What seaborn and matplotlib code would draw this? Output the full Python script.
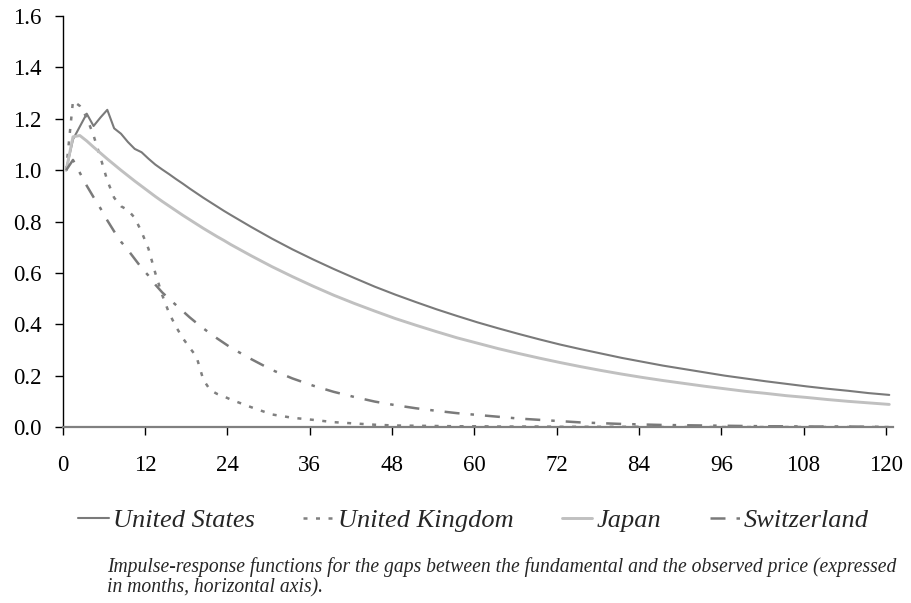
import numpy as np
import pandas as pd
import matplotlib
matplotlib.use("Agg")
import matplotlib.pyplot as plt
import seaborn as sns

# ---- data ----
months = list(range(0, 25)) + list(range(27, 121, 3))

united_states = [1.000, 1.120, 1.170, 1.220, 1.172, 1.205, 1.235, 1.163, 1.142, 1.110,
                 1.083, 1.070, 1.045, 1.022, 1.003, 0.985, 0.966, 0.948, 0.929, 0.911,
                 0.893, 0.876, 0.859, 0.842, 0.826,
                 0.779, 0.734, 0.692, 0.653, 0.616, 0.581, 0.547, 0.516, 0.487, 0.459,
                 0.433, 0.408, 0.385, 0.363, 0.342, 0.322, 0.304, 0.287, 0.270, 0.255,
                 0.240, 0.227, 0.214, 0.201, 0.190, 0.179, 0.169, 0.159, 0.150, 0.142,
                 0.133, 0.126]

united_kingdom = [1.000, 1.270, 1.250, 1.205, 1.135, 1.050, 0.960, 0.893, 0.860, 0.845,
                  0.815, 0.760, 0.695, 0.600, 0.515, 0.445, 0.392, 0.347, 0.310, 0.275,
                  0.185, 0.145, 0.130, 0.120, 0.108,
                  0.078, 0.050, 0.037, 0.029, 0.020, 0.015, 0.010, 0.007, 0.006, 0.005,
                  0.004, 0.004, 0.003, 0.003, 0.003, 0.002, 0.002, 0.002, 0.002, 0.002,
                  0.001, 0.001, 0.001, 0.001, 0.001, 0.001, 0.001, 0.001, 0.001, 0.001,
                  0.001, 0.001]

japan = [1.000, 1.130, 1.135, 1.114, 1.090, 1.067, 1.044, 1.022, 1.000, 0.979,
         0.958, 0.938, 0.918, 0.898, 0.879, 0.861, 0.843, 0.825, 0.808, 0.791,
         0.774, 0.758, 0.742, 0.727, 0.711,
         0.667, 0.625, 0.586, 0.549, 0.514, 0.482, 0.452, 0.423, 0.397, 0.372,
         0.348, 0.327, 0.306, 0.287, 0.269, 0.252, 0.236, 0.221, 0.207, 0.194,
         0.182, 0.171, 0.160, 0.150, 0.140, 0.132, 0.123, 0.116, 0.108, 0.101,
         0.095, 0.089]

switzerland = [1.000, 1.040, 0.990, 0.940, 0.895, 0.852, 0.805, 0.762, 0.722, 0.690,
               0.655, 0.620, 0.590, 0.555, 0.525, 0.500, 0.476, 0.452, 0.428, 0.406,
               0.385, 0.365, 0.346, 0.328, 0.310,
               0.265, 0.223, 0.190, 0.162, 0.138, 0.118, 0.100, 0.086, 0.074, 0.064,
               0.055, 0.048, 0.041, 0.034, 0.029, 0.024, 0.019, 0.016, 0.013, 0.011,
               0.009, 0.008, 0.007, 0.006, 0.005, 0.004, 0.004, 0.003, 0.003, 0.003,
               0.002, 0.002]

series_names = ["United States", "United Kingdom", "Japan", "Switzerland"]
x_ticks = list(range(0, 121, 12))
y_ticks = [0.0, 0.2, 0.4, 0.6, 0.8, 1.0, 1.2, 1.4, 1.6]
caption = ("Impulse-response functions for the gaps between the fundamental and the observed price (expressed\n"
           "in months, horizontal axis).")

# ---- styling ----
sns.set_style("ticks")
plt.rcParams["font.family"] = ["Liberation Serif", "DejaVu Serif"]

styles = {
    "United States": dict(color="#7a7a7a", lw=1.5, ls="-"),
    "United Kingdom": dict(color="#808080", lw=1.8, ls=(0, (1.6, 3.4))),
    "Japan": dict(color="#c0c0c0", lw=2.1, ls="-"),
    "Switzerland": dict(color="#7a7a7a", lw=1.8, ls=(0, (6.0, 4.4, 1.4, 4.4))),
}

df = pd.DataFrame({"month": months,
                   "United States": united_states,
                   "United Kingdom": united_kingdom,
                   "Japan": japan,
                   "Switzerland": switzerland})
# category-centred positions (points sit in the middle of each monthly slot)
df["pos"] = df["month"] + 0.5

fig = plt.figure(figsize=(9.11, 6.03), dpi=100)
ax = fig.add_axes([62.7 / 911, 1 - 427.3 / 603, (892.7 - 62.7) / 911, (427.3 - 16) / 603])

handles = []
for name in series_names:
    st = styles[name]
    sns.lineplot(data=df, x="pos", y=name, ax=ax, color=st["color"], linewidth=st["lw"],
                 linestyle=st["ls"], estimator=None, sort=True, label=name, legend=False)
    handles.append(ax.lines[-1])

ax.set_xlim(0, 121)
ax.set_ylim(0, 1.6)
ax.set_xticks(x_ticks)
ax.set_xticklabels([str(t) for t in x_ticks])
ax.set_yticks(y_ticks)
ax.set_yticklabels([f"{t:.1f}" for t in y_ticks])
ax.set_xlabel("")
ax.set_ylabel("")

for s in ["top", "right"]:
    ax.spines[s].set_visible(False)
ax.spines["left"].set_color("black")
ax.spines["left"].set_linewidth(1.0)
ax.spines["bottom"].set_color("#808080")
ax.spines["bottom"].set_linewidth(1.6)
ax.spines["left"].set_zorder(0.5)

ax.tick_params(axis="both", which="major", length=6, width=1.0, color="black",
               labelsize=16.5, labelcolor="black")
ax.tick_params(axis="x", pad=14)
ax.tick_params(axis="y", pad=9)

leg = fig.legend(handles=handles, labels=series_names, loc="center",
                 bbox_to_anchor=(0.52, 1 - 520 / 603), ncol=4, frameon=False,
                 prop={"family": "Liberation Serif", "style": "italic", "size": 19},
                 handlelength=1.15, handletextpad=0.15, columnspacing=1.85)

fig.text(107 / 911, 1 - 557 / 603, caption, ha="left", va="top",
         fontsize=14.1, style="italic", family="Liberation Serif", linespacing=1.12)

fig.savefig("out.png", dpi=100)
